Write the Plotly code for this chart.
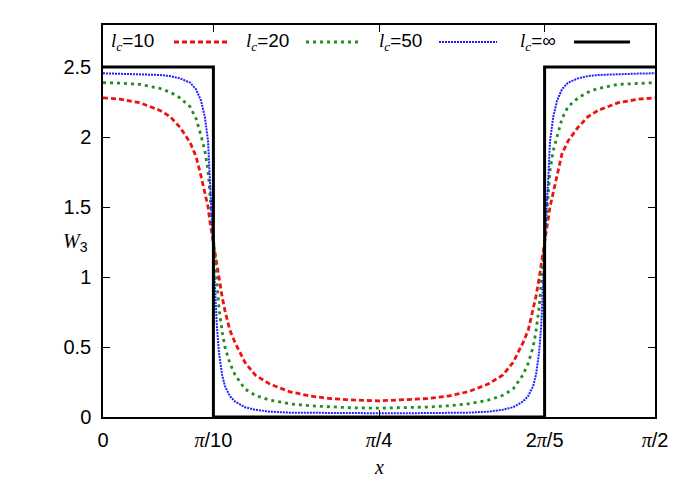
import math
import plotly.graph_objects as go

x_vals = [0.000, 0.048, 0.105, 0.162, 0.191, 0.219, 0.248, 0.265, 0.279,
          0.290, 0.299, 0.304, 0.309, 0.314, 0.319, 0.324, 0.330, 0.339,
          0.347, 0.361, 0.376, 0.404, 0.433, 0.475, 0.532, 0.589, 0.646,
          0.703, 0.785,
          0.868, 0.925, 0.982, 1.039, 1.096, 1.138, 1.167, 1.195, 1.210,
          1.224, 1.232, 1.241, 1.247, 1.252, 1.257, 1.262, 1.267, 1.272,
          1.281, 1.292, 1.306, 1.323, 1.352, 1.380, 1.409, 1.466, 1.523,
          1.571]

# W3 for l_c = 10
w_lc10 = [2.28, 2.27, 2.245, 2.19, 2.145, 2.07, 1.96, 1.86, 1.72,
          1.60, 1.50, 1.40, 1.33, 1.25, 1.17, 1.09, 0.99, 0.86,
          0.76, 0.62, 0.53, 0.39, 0.30, 0.235, 0.18, 0.15, 0.132,
          0.122, 0.115,
          0.122, 0.132, 0.15, 0.18, 0.235, 0.30, 0.39, 0.53, 0.62,
          0.76, 0.86, 0.99, 1.09, 1.17, 1.25, 1.33, 1.40, 1.50,
          1.60, 1.72, 1.88, 1.97, 2.07, 2.145, 2.19, 2.245, 2.27,
          2.28]

# W3 for l_c = 20
w_lc20 = [2.388, 2.385, 2.376, 2.347, 2.32, 2.28, 2.216, 2.13, 2.01,
          1.90, 1.76, 1.60, 1.42, 1.25, 1.08, 0.95, 0.78, 0.61,
          0.50, 0.384, 0.30, 0.20, 0.155, 0.12, 0.094, 0.08, 0.071,
          0.066, 0.063,
          0.066, 0.071, 0.08, 0.094, 0.12, 0.155, 0.20, 0.30, 0.384,
          0.50, 0.61, 0.78, 0.95, 1.08, 1.25, 1.42, 1.60, 1.76,
          1.90, 2.01, 2.13, 2.216, 2.28, 2.32, 2.347, 2.376, 2.385,
          2.388]

# W3 for l_c = 50
w_lc50 = [2.455, 2.453, 2.45, 2.443, 2.435, 2.419, 2.388, 2.34, 2.26,
          2.14, 1.97, 1.70, 1.48, 1.25, 0.95, 0.65, 0.46, 0.30,
          0.22, 0.15, 0.11, 0.07, 0.052, 0.038, 0.031, 0.029, 0.028,
          0.027, 0.027,
          0.027, 0.028, 0.029, 0.031, 0.038, 0.052, 0.07, 0.11, 0.15,
          0.22, 0.30, 0.46, 0.65, 0.95, 1.25, 1.48, 1.70, 1.97,
          2.14, 2.26, 2.34, 2.388, 2.419, 2.435, 2.443, 2.45, 2.453,
          2.455]

# l_c = infinity: step profile
x_step = [0.0, math.pi / 10, math.pi / 10, 2 * math.pi / 5, 2 * math.pi / 5,
          math.pi / 2]
w_step = [2.5, 2.5, 0.0, 0.0, 2.5, 2.5]

x_ticks = [0, math.pi / 10, math.pi / 4, 2 * math.pi / 5, math.pi / 2]
PI = '<span style="font-family:Liberation Serif"><i>π</i></span>'
x_ticktext = ["0", PI + "/10", PI + "/4", "2" + PI + "/5", PI + "/2"]
y_ticks = [0, 0.5, 1, 1.5, 2, 2.5]
y_ticktext = ["0", "0.5", "1", "1.5", "2", "2.5"]

legend_labels = ["10", "20", "50", "∞"]
colors = ["#f01010", "#228b22", "#1f1fff", "black"]
dashes = ["5px,3px", "3px,4px", "2px,1px", "solid"]
widths = [2.8, 2.8, 2, 3]

fig = go.Figure()
for y, c, d, w in zip([w_lc10, w_lc20, w_lc50], colors, dashes, widths):
    fig.add_trace(go.Scatter(x=x_vals, y=y, mode="lines",
                             line=dict(color=c, dash=d, width=w)))
fig.add_trace(go.Scatter(x=x_step, y=w_step, mode="lines",
                         line=dict(color="black", width=3)))

# gnuplot-style key: text first, then the line sample
text_x = [0.0109, 0.2554, 0.4964, 0.7518]
sample_x = [(0.1286, 0.2283), (0.3678, 0.4692), (0.6087, 0.7138),
            (0.8533, 0.9547)]
key_y = 0.9566
LC = ('<span style="font-family:Liberation Serif"><i>l</i>'
      '<sub><i>c</i></sub></span>')
for lab, tx, (s0, s1), c, d, w in zip(legend_labels, text_x, sample_x,
                                       colors, dashes, widths):
    fig.add_annotation(x=tx, y=key_y, xref="paper", yref="paper",
                       text=LC + "=" + lab, showarrow=False,
                       xanchor="left", yanchor="middle",
                       font=dict(size=19, color="black"))
    fig.add_shape(type="line", xref="paper", yref="paper",
                  x0=s0, x1=s1, y0=key_y, y1=key_y,
                  line=dict(color=c, dash=d, width=w))

fig.add_annotation(x=-0.05, y=0.446, xref="paper", yref="paper",
                   xanchor="center", yanchor="middle",
                   text='<span style="font-family:Liberation Serif">'
                        '<i>W</i></span><sub>3</sub>',
                   showarrow=False, font=dict(size=20, color="black"))
fig.add_annotation(x=0.5, y=-0.128, xref="paper", yref="paper",
                   xanchor="center", yanchor="middle",
                   text='<span style="font-family:Liberation Serif">'
                        '<i>x</i></span>',
                   showarrow=False, font=dict(size=20, color="black"))

axis_common = dict(showline=True, linecolor="black", linewidth=1.5,
                   mirror="ticks", ticks="inside", ticklen=7,
                   tickcolor="black", tickwidth=1, showgrid=False,
                   zeroline=False, tickfont=dict(size=20, color="black"))

fig.update_xaxes(range=[0, math.pi / 2], tickvals=x_ticks,
                 ticktext=x_ticktext, ticklabelstandoff=4, **axis_common)
fig.update_yaxes(range=[0, 2.8], tickvals=y_ticks, ticktext=y_ticktext,
                 ticklabelstandoff=6, **axis_common)

# the page body adds an 8px offset, so margins are trimmed to suit
fig.update_layout(width=692, height=485,
                  margin=dict(l=95, r=45, t=17, b=76),
                  plot_bgcolor="white", paper_bgcolor="white",
                  font=dict(family="Liberation Sans", color="black"),
                  showlegend=False)

fig.write_html("out.html")
